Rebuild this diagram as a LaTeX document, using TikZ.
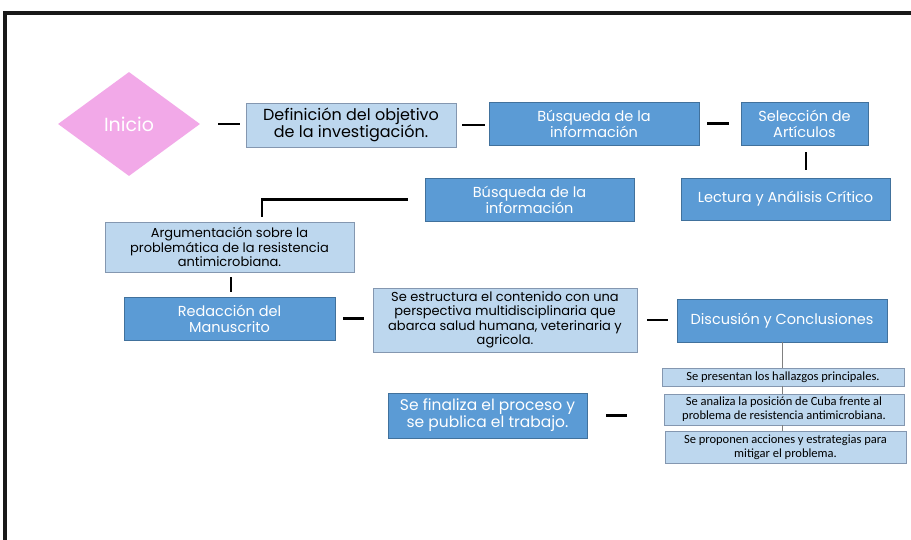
\documentclass[tikz,border=0pt]{standalone}
\usepackage{fontspec}
\setmainfont{Poppins}
\newfontfamily\calibri{Carlito}
\usetikzlibrary{shapes.geometric}

\definecolor{pinkfill}{HTML}{F2A9E8}
\definecolor{darkfill}{HTML}{5B9BD5}
\definecolor{darkline}{HTML}{41719C}
\definecolor{lightfill}{HTML}{BDD7EE}
\definecolor{lightline}{HTML}{8497B0}

\tikzset{
  darkbox/.style={rectangle, fill=darkfill, draw=darkline, text=white, align=center, inner sep=0pt,
    font=\fontsize{14.5}{16}\selectfont},
  lightbox/.style={rectangle, fill=lightfill, draw=lightline, align=center, inner sep=0pt,
    font=\fontsize{13}{14.5}\selectfont},
  notebox/.style={rectangle, fill=lightfill, draw=lightline, align=center, inner sep=0pt,
    font=\calibri\fontsize{12.5}{14}\selectfont},
  bar/.style={line width=2.7pt, black},
  thinlink/.style={line width=1pt, gray},
}

\begin{document}
\begin{tikzpicture}[x=1pt, y=-1pt]
  \useasboundingbox[fill=white] (0,0) rectangle (911,540);
  % marco
  \draw[line width=4pt, black!90] (911,13) -- (5,13) -- (5,540);

  % primera fila
  \node (inicio) at (129,124) [diamond, fill=pinkfill, text=white, inner sep=0pt,
    minimum width=142pt, minimum height=104pt, font=\fontsize{19}{20}\selectfont] {Inicio};
  \node (def) at (351,125) [lightbox, minimum width=210pt, minimum height=44pt,
    font=\fontsize{16}{17}\selectfont]
    {Definición del objetivo\\de la investigación.};
  \node (busq1) at (594,123.5) [darkbox, minimum width=210pt, minimum height=43pt]
    {Búsqueda de la\\información};
  \node (sel) at (804.5,123.5) [darkbox, minimum width=127pt, minimum height=43pt]
    {Selección de\\Artículos};

  % segunda fila
  \node (lect) at (785.5,199) [darkbox, minimum width=209pt, minimum height=42pt]
    {Lectura y Análisis Crítico};
  \node (busq2) at (529.5,199.5) [darkbox, minimum width=209pt, minimum height=43pt]
    {Búsqueda de la\\información};
  \node (arg) at (229.5,247) [lightbox, minimum width=249pt, minimum height=50pt]
    {Argumentación sobre la\\problemática de la resistencia\\antimicrobiana.};

  % tercera fila
  \node (red) at (229.5,318.5) [darkbox, minimum width=211pt, minimum height=43pt]
    {Redacción del\\Manuscrito};
  \node (estr) at (505,320) [lightbox, minimum width=264pt, minimum height=64pt]
    {Se estructura el contenido con una\\perspectiva multidisciplinaria que\\abarca salud humana, veterinaria y\\agricola.};
  \node (disc) at (782,320.5) [darkbox, minimum width=210pt, minimum height=43pt]
    {Discusión y Conclusiones};

  % notas
  \node (pres) at (783,377) [notebox, minimum width=242pt, minimum height=18pt]
    {Se presentan los hallazgos principales.};
  \node (anal) at (784,409.5) [notebox, minimum width=240pt, minimum height=31pt]
    {Se analiza la posición de Cuba frente al\\problema de resistencia antimicrobiana.};
  \node (prop) at (785.5,447) [notebox, minimum width=241pt, minimum height=32pt]
    {Se proponen acciones y estrategias para\\mitigar el problema.};
  \node (fin) at (487.5,415.5) [darkbox, minimum width=199pt, minimum height=45pt,
    font=\fontsize{15.5}{17}\selectfont]
    {Se finaliza el proceso y\\se publica el trabajo.};
  \coordinate (finend) at (627,415.5);

  % conectores
  \draw[bar, shorten <=18pt, shorten >=6pt] (inicio.east) -- (inicio.east -| def.west);
  \draw[bar, shorten <=6pt, shorten >=4pt] (def.east) -- (def.east -| busq1.west);
  \draw[bar, shorten <=8pt, shorten >=12pt] (busq1.east) -- (busq1.east -| sel.west);
  \draw[bar, shorten <=7pt, shorten >=8pt] ([xshift=1.5pt]sel.south) -- ([xshift=1.5pt]sel.south |- lect.north);
  \draw[bar, shorten <=17pt, shorten >=5pt] (busq2.west) -| ([xshift=32.5pt]arg.north);
  \draw[bar, shorten <=5pt, shorten >=5pt] ([xshift=1.5pt]arg.south) -- ([xshift=1.5pt]red.north);
  \draw[bar, shorten <=8pt, shorten >=9pt] (red.east) -- (red.east -| estr.west);
  \draw[bar, shorten <=10pt, shorten >=9pt] (estr.east) -- (estr.east -| disc.west);
  \draw[bar, shorten <=19pt] (fin.east) -- (finend);
  \draw[thinlink] (disc.south) -- (disc.south |- pres.north);
  \draw[thinlink] (disc.south |- pres.south) -- (disc.south |- anal.north);
  \draw[thinlink] (disc.south |- anal.south) -- (disc.south |- prop.north);
\end{tikzpicture}
\end{document}
